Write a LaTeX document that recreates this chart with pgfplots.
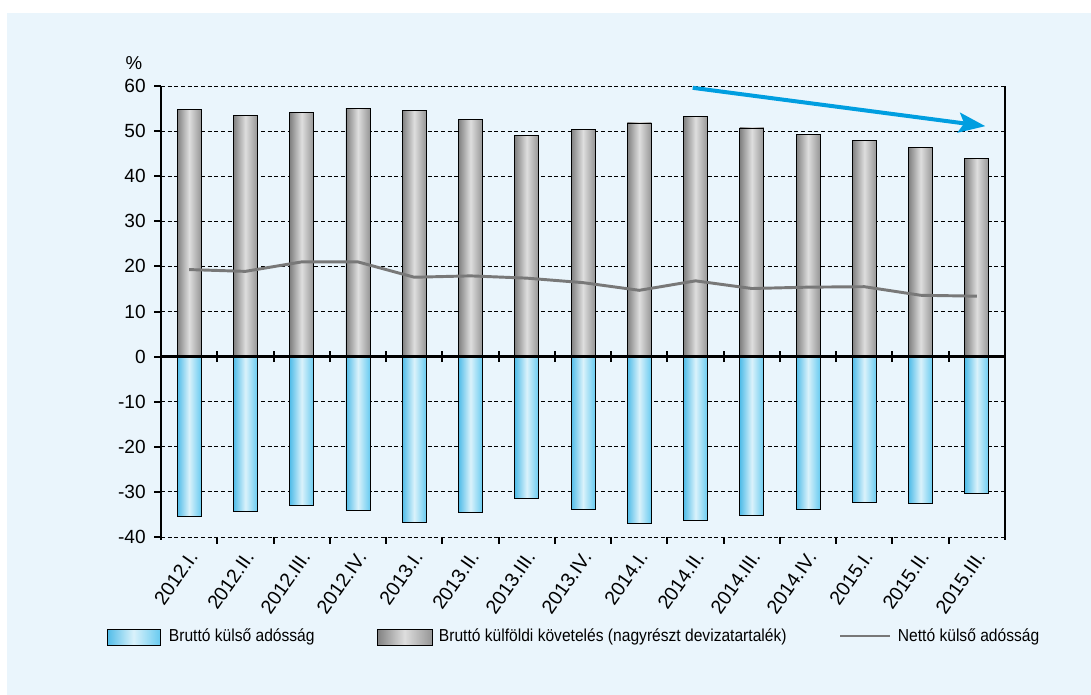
\documentclass[border=0pt]{standalone}
\usepackage{pgfplots}
\pgfplotsset{compat=1.18}
\usetikzlibrary{arrows.meta}
\usepackage{fontspec}
\setmainfont{Liberation Sans}
\newfontfamily\legfont{Liberation Sans}[FakeStretch=0.9]
\definecolor{bg}{RGB}{234,245,252}
\definecolor{arrowblue}{RGB}{0,158,224}
\definecolor{linegray}{RGB}{120,120,120}
\definecolor{gdark}{RGB}{128,128,128}
\definecolor{glight}{RGB}{222,222,222}
\definecolor{gright}{RGB}{150,150,150}
\definecolor{bdark}{RGB}{80,188,232}
\definecolor{blight}{RGB}{218,242,251}
\definecolor{bright}{RGB}{105,203,240}
\pgfplotsset{
  gbar/.style={ybar, bar width=18pt, bar shift=0pt, draw=black, line width=0.6pt,
    left color=gdark, right color=gright, middle color=glight, forget plot},
  bbar/.style={ybar, bar width=18pt, bar shift=0pt, draw=black, line width=0.6pt,
    left color=bdark, right color=bright, middle color=blight, forget plot},
}

\begin{document}
\begin{tikzpicture}
\begin{scope}[x=0.75pt,y=0.75pt]
\fill[white] (0,0) rectangle (1091,-695);
\fill[bg] (7,-13) rectangle (1091,-695);
\end{scope}
\begin{axis}[
  at={(120.75pt,-402.75pt)}, anchor=south west,
  scale only axis, width=633pt, height=338.25pt,
  xmin=-0.5, xmax=14.5, ymin=-40, ymax=60,
  clip=false,
  axis line style={draw=none},
  ytick={-40,-30,...,60},
  yticklabels={-40,-30,-20,-10,0,10,20,30,40,50,60},
  ytick pos=left, tick align=outside,
  major tick length=5pt,
  ytick style={black, line width=1.5pt},
  ymajorgrids, grid style={black, line width=0.7pt, dash pattern=on 3pt off 2pt},
  yticklabel style={font=\fontsize{14.3}{16}\selectfont, xshift=-3pt},
  xtick={0,...,14},
  xticklabels={2012.I.,2012.II.,2012.III.,2012.IV.,2013.I.,2013.II.,2013.III.,2013.IV.,2014.I.,2014.II.,2014.III.,2014.IV.,2015.I.,2015.II.,2015.III.},
  xtick style={draw=none},
  xticklabel style={font=\fontsize{14.7}{16}\selectfont, xshift=5pt, yshift=-4.5pt, rotate=55, anchor=east},
]
% Bruttó külföldi követelés (positive)
\addplot[gbar] coordinates {(0,54.9)};
\addplot[gbar] coordinates {(1,53.5)};
\addplot[gbar] coordinates {(2,54.2)};
\addplot[gbar] coordinates {(3,55.1)};
\addplot[gbar] coordinates {(4,54.6)};
\addplot[gbar] coordinates {(5,52.6)};
\addplot[gbar] coordinates {(6,49.0)};
\addplot[gbar] coordinates {(7,50.3)};
\addplot[gbar] coordinates {(8,51.8)};
\addplot[gbar] coordinates {(9,53.2)};
\addplot[gbar] coordinates {(10,50.7)};
\addplot[gbar] coordinates {(11,49.3)};
\addplot[gbar] coordinates {(12,48.0)};
\addplot[gbar] coordinates {(13,46.4)};
\addplot[gbar] coordinates {(14,44.0)};
% Bruttó külső adósság (negative)
\addplot[bbar] coordinates {(0,-35.5)};
\addplot[bbar] coordinates {(1,-34.4)};
\addplot[bbar] coordinates {(2,-33.1)};
\addplot[bbar] coordinates {(3,-34.0)};
\addplot[bbar] coordinates {(4,-36.8)};
\addplot[bbar] coordinates {(5,-34.6)};
\addplot[bbar] coordinates {(6,-31.4)};
\addplot[bbar] coordinates {(7,-33.8)};
\addplot[bbar] coordinates {(8,-37.0)};
\addplot[bbar] coordinates {(9,-36.4)};
\addplot[bbar] coordinates {(10,-35.3)};
\addplot[bbar] coordinates {(11,-33.8)};
\addplot[bbar] coordinates {(12,-32.4)};
\addplot[bbar] coordinates {(13,-32.5)};
\addplot[bbar] coordinates {(14,-30.3)};
% Nettó külső adósság
\addplot[linegray, line width=2.2pt, mark=none] coordinates {
 (0,19.3) (1,18.9) (2,21.0) (3,21.0) (4,17.6) (5,17.9) (6,17.4) (7,16.4)
 (8,14.7) (9,16.8) (10,15.1) (11,15.4) (12,15.5) (13,13.6) (14,13.4)};
\draw[black, line width=2pt] (axis cs:-0.5,60) -- (axis cs:-0.5,-40.7);
\draw[black, line width=2pt] (axis cs:14.5,60) -- (axis cs:14.5,-40.7);
\draw[black, line width=2.2pt] (axis cs:-0.5,0) -- (axis cs:14.5,0);
\pgfplotsinvokeforeach{0.5,1.5,...,13.5}{
  \draw[black, line width=1.5pt] (axis cs:#1,-1.2) -- (axis cs:#1,1.2);
  \draw[black, line width=1.5pt] (axis cs:#1,-40) -- (axis cs:#1,-41.6);
}
\draw[arrowblue, line width=3pt, -{Stealth[length=20pt,width=15pt,inset=4pt]}]
  (axis cs:8.95,59.6) -- (axis cs:14.15,51.1);
\end{axis}
\begin{scope}[x=0.75pt,y=0.75pt]
\node[font=\fontsize{14}{15}\selectfont] at (134,-63) {\%};
% legend
\path[draw=black, line width=0.6pt, left color=bdark, right color=bright, middle color=blight] (107,-629) rectangle (160,-645);
\node[anchor=west, font=\legfont\fontsize{13}{15}\selectfont, inner sep=2pt] at (166,-637) {Bruttó külső adósság};
\path[draw=black, line width=0.6pt, left color=gdark, right color=gright, middle color=glight] (377,-629) rectangle (432,-645);
\node[anchor=west, font=\legfont\fontsize{13}{15}\selectfont, inner sep=2pt] at (436,-637) {Bruttó külföldi követelés (nagyrészt devizatartalék)};
\draw[linegray, line width=2.2pt] (840,-636) -- (890,-636);
\node[anchor=west, font=\legfont\fontsize{13}{15}\selectfont, inner sep=2pt] at (895,-637) {Nettó külső adósság};
\end{scope}
\end{tikzpicture}
\end{document}
